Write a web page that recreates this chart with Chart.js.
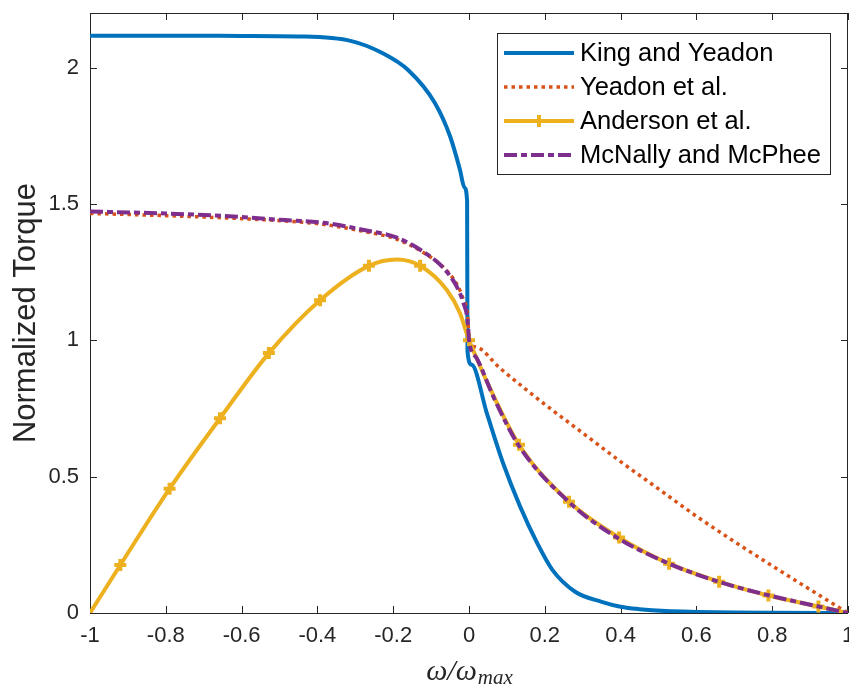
<!DOCTYPE html>
<html>
<head>
<meta charset="utf-8">
<title>Normalized Torque</title>
<script src="https://cdn.jsdelivr.net/npm/chart.js@4/dist/chart.umd.min.js"></script>
<style>
    html, body { margin: 0; padding: 0; background: #fff; }
    canvas { display: block; }
</style>
</head>
<body>
<canvas id="torqueChart" width="849" height="685"></canvas>
<script>
// tick labels
const xTicks = [-1, -0.8, -0.6, -0.4, -0.2, 0, 0.2, 0.4, 0.6, 0.8, 1];
const yTicks = [0, 0.5, 1, 1.5, 2];

// King and Yeadon
const kingX = [-1, -0.8, -0.6, -0.45, -0.31, -0.23, -0.16, -0.09, -0.05, -0.024, -0.012, -0.005, -0.004, 0.007, 0.047, 0.09, 0.135, 0.18, 0.22, 0.28, 0.35, 0.4, 0.45, 0.52, 0.6, 0.7, 0.8, 1];
const kingY = [2.117, 2.117, 2.116, 2.114, 2.097, 2.054, 1.99, 1.87, 1.748, 1.626, 1.56, 1.51, 0.96, 0.91, 0.733, 0.549, 0.39, 0.256, 0.158, 0.078, 0.041, 0.023, 0.014, 0.007, 0.004, 0.002, 0.001, 0];

// Yeadon et al.
const yeadonX = [-1, -0.8, -0.6, -0.47, -0.385, -0.28, -0.19, -0.121, -0.068, -0.032, -0.015, -0.003, 0, 0.02, 0.08, 0.15, 0.2, 0.3, 0.4, 0.5, 0.6, 0.7, 0.8, 0.9, 1];
const yeadonY = [1.465, 1.457, 1.446, 1.436, 1.425, 1.4, 1.37, 1.322, 1.268, 1.205, 1.15, 1.08, 1.0, 0.975, 0.9, 0.82, 0.765, 0.66, 0.555, 0.455, 0.355, 0.262, 0.173, 0.086, 0];

// Anderson et al. (markers flagged)
const andersonX = [-1, -0.92, -0.79, -0.657, -0.528, -0.393, -0.264, -0.19, -0.129, -0.059, -0.024, 0, 0.02, 0.05, 0.132, 0.264, 0.396, 0.528, 0.66, 0.79, 0.922, 1];
const andersonY = [0, 0.176, 0.456, 0.714, 0.953, 1.147, 1.273, 1.296, 1.273, 1.185, 1.1, 1.0, 0.935, 0.84, 0.617, 0.408, 0.277, 0.181, 0.115, 0.064, 0.024, 0];
const andersonMarks = [0, 1, 1, 1, 1, 1, 1, 0, 1, 0, 0, 1, 0, 0, 1, 1, 1, 1, 1, 1, 1, 0];

// McNally and McPhee
const mcnallyX = [-1, -0.8, -0.6, -0.5, -0.385, -0.28, -0.19, -0.121, -0.068, -0.032, -0.015, -0.003, 0, 0.02, 0.064, 0.13, 0.262, 0.39, 0.526, 0.658, 0.79, 0.922, 1];
const mcnallyY = [1.472, 1.465, 1.452, 1.442, 1.431, 1.405, 1.376, 1.325, 1.266, 1.196, 1.138, 1.064, 1.0, 0.935, 0.794, 0.617, 0.409, 0.277, 0.182, 0.115, 0.065, 0.024, 0];

const axisColor = '#262626';
const sansFont = '"Liberation Sans", Arial, sans-serif';

function toPoints(xs, ys) {
    return xs.map((x, i) => ({ x: x, y: ys[i] }));
}

// chart.js reserves room for end labels, we want a fixed plot box
function noEdgePadding(scale) {
    scale.paddingLeft = 0;
    scale.paddingRight = 0;
    scale.paddingTop = 0;
    scale.paddingBottom = 0;
}

// box, inward ticks on all four sides
const matlabAxes = {
    id: 'matlabAxes',
    beforeDraw(chart) {
        const ctx = chart.ctx;
        ctx.save();
        ctx.fillStyle = '#fff';
        ctx.fillRect(0, 0, chart.width, chart.height);
        ctx.restore();
    },
    beforeDatasetsDraw(chart) {
        const { ctx, chartArea: a, scales } = chart;
        const tick = 7;
        ctx.save();
        ctx.strokeStyle = axisColor;
        ctx.lineWidth = 1;
        ctx.strokeRect(a.left + 0.5, a.top + 0.5, a.right - a.left - 1, a.bottom - a.top);
        ctx.beginPath();
        xTicks.forEach(v => {
            const px = Math.round(scales.x.getPixelForValue(v)) + 0.5;
            ctx.moveTo(px, a.bottom);
            ctx.lineTo(px, a.bottom - tick);
            ctx.moveTo(px, a.top);
            ctx.lineTo(px, a.top + tick);
        });
        yTicks.forEach(v => {
            const py = Math.round(scales.y.getPixelForValue(v)) + 0.5;
            ctx.moveTo(a.left, py);
            ctx.lineTo(a.left + tick, py);
            ctx.moveTo(a.right, py);
            ctx.lineTo(a.right - tick, py);
        });
        ctx.stroke();
        ctx.restore();
    },
    afterDraw(chart) {
        const ctx = chart.ctx;
        const a = chart.chartArea;

        // x axis title: omega / omega_max
        ctx.save();
        ctx.fillStyle = axisColor;
        ctx.textBaseline = 'alphabetic';
        const mainFont = 'italic 30px "Liberation Serif", "DejaVu Serif", serif';
        const subFont = 'italic 21px "Liberation Serif", "DejaVu Serif", serif';
        ctx.font = mainFont;
        const w1 = ctx.measureText('ω/ω').width;
        ctx.font = subFont;
        const w2 = ctx.measureText('max').width;
        const cx = (a.left + a.right) / 2;
        const sx = cx - (w1 + w2) / 2;
        ctx.font = mainFont;
        ctx.fillText('ω/ω', sx, 680);
        ctx.font = subFont;
        ctx.fillText('max', sx + w1 + 1, 684);
        ctx.restore();

        // legend
        const box = { x: 497, y: 33, w: 333, h: 141 };
        const rowH = 34;
        ctx.save();
        ctx.fillStyle = '#fff';
        ctx.fillRect(box.x, box.y, box.w, box.h);
        ctx.strokeStyle = axisColor;
        ctx.lineWidth = 1;
        ctx.strokeRect(box.x + 0.5, box.y + 0.5, box.w, box.h);
        ctx.font = '25.5px ' + sansFont;
        ctx.textBaseline = 'middle';
        chart.data.datasets.forEach((ds, i) => {
            const ry = box.y + 20 + i * rowH;
            const x0 = box.x + 7;
            const x1 = box.x + 77;
            ctx.save();
            ctx.strokeStyle = ds.borderColor;
            ctx.lineWidth = ds.borderWidth;
            ctx.setLineDash(ds.borderDash || []);
            ctx.beginPath();
            ctx.moveTo(x0, ry);
            ctx.lineTo(x1, ry);
            ctx.stroke();
            if (ds.legendMarker) {
                const mx = (x0 + x1) / 2;
                ctx.setLineDash([]);
                ctx.lineWidth = ds.pointBorderWidth;
                ctx.beginPath();
                ctx.moveTo(mx - 6, ry);
                ctx.lineTo(mx + 6, ry);
                ctx.moveTo(mx, ry - 6);
                ctx.lineTo(mx, ry + 6);
                ctx.stroke();
            }
            ctx.restore();
            ctx.fillStyle = '#000';
            ctx.fillText(ds.label, box.x + 83, ry + 1);
        });
        ctx.restore();
    }
};

const ctx = document.getElementById('torqueChart');

new Chart(ctx, {
    type: 'line',
    data: {
        datasets: [
            {
                label: 'King and Yeadon',
                data: toPoints(kingX, kingY),
                borderColor: '#0072BD',
                borderWidth: 4,
                pointRadius: 0,
                cubicInterpolationMode: 'monotone',
                order: 4
            },
            {
                label: 'Yeadon et al.',
                data: toPoints(yeadonX, yeadonY),
                borderColor: '#D95319',
                borderWidth: 3.5,
                borderDash: [3.5, 4],
                pointRadius: 0,
                cubicInterpolationMode: 'monotone',
                order: 3
            },
            {
                label: 'Anderson et al.',
                data: toPoints(andersonX, andersonY),
                borderColor: '#EDB120',
                borderWidth: 4,
                pointStyle: 'cross',
                pointRadius: c => andersonMarks[c.dataIndex] ? 6 : 0,
                pointBorderColor: '#EDB120',
                pointBorderWidth: 4,
                legendMarker: true,
                cubicInterpolationMode: 'monotone',
                order: 2
            },
            {
                label: 'McNally and McPhee',
                data: toPoints(mcnallyX, mcnallyY),
                borderColor: '#7E2F8E',
                borderWidth: 4,
                borderDash: [13, 4, 6, 4],
                pointRadius: 0,
                cubicInterpolationMode: 'monotone',
                order: 1
            }
        ]
    },
    options: {
        responsive: false,
        animation: false,
        events: [],
        layout: { padding: { top: 13, right: 1, left: 0, bottom: 0 } },
        plugins: {
            legend: { display: false },
            tooltip: { enabled: false }
        },
        scales: {
            x: {
                type: 'linear',
                min: -1,
                max: 1,
                afterBuildTicks: scale => { scale.ticks = xTicks.map(v => ({ value: v })); },
                afterFit: scale => { scale.height = 72; noEdgePadding(scale); },
                grid: { display: false, drawTicks: false },
                border: { display: false },
                ticks: {
                    padding: 10,
                    autoSkip: false,
                    maxRotation: 0,
                    color: axisColor,
                    font: { family: sansFont, size: 22 },
                    callback: v => String(v)
                }
            },
            y: {
                type: 'linear',
                min: 0,
                max: 2.2,
                afterBuildTicks: scale => { scale.ticks = yTicks.map(v => ({ value: v })); },
                afterFit: scale => { scale.width = 90; noEdgePadding(scale); },
                grid: { display: false, drawTicks: false },
                border: { display: false },
                title: {
                    display: true,
                    text: 'Normalized Torque',
                    color: axisColor,
                    font: { family: sansFont, size: 31 },
                    padding: { top: 8, bottom: 0 }
                },
                ticks: {
                    padding: 11,
                    color: axisColor,
                    font: { family: sansFont, size: 22 },
                    callback: v => String(v)
                }
            }
        }
    },
    plugins: [matlabAxes]
});
</script>
</body>
</html>
